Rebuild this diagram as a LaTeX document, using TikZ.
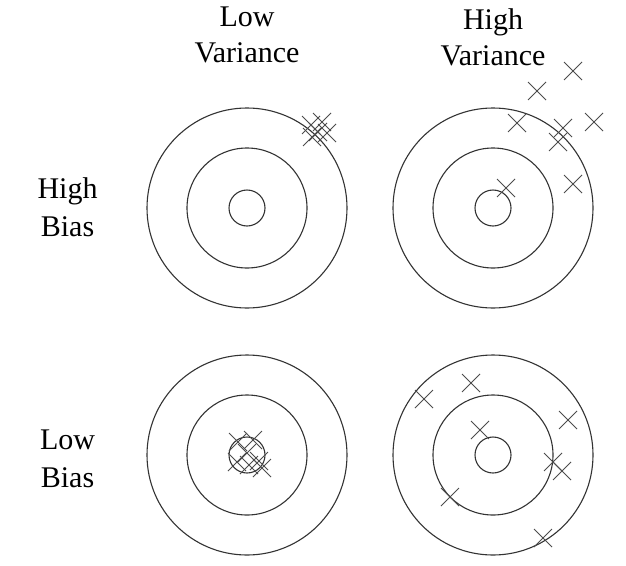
\documentclass[tikz,border=0pt]{standalone}
\usepackage{fontspec}
\setmainfont{Liberation Serif}
\usetikzlibrary{shapes.misc}
\begin{document}
\begin{tikzpicture}[x=1pt,y=-1pt,
  ring/.style={draw=black!80, line width=1.1pt},
  xm/.style={cross out, draw=black!70, line width=1pt, minimum size=17pt, inner sep=0pt},
  lab/.style={font=\fontsize{30}{36}\selectfont, anchor=base, inner sep=0pt, text=black}]
\useasboundingbox (0,0) rectangle (626,565);
\fill[white] (0,0) rectangle (626,565);
% labels
\node[lab] (lv1) at (247,26) {Low};
\node[lab] (lv2) at (247,62) {Variance};
\node[lab] (hv1) at (493,29) {High};
\node[lab] (hv2) at (493,65) {Variance};
\node[lab] (hb1) at (67.5,198) {High};
\node[lab] (hb2) at (67.5,236) {Bias};
\node[lab] (lb1) at (67.5,449) {Low};
\node[lab] (lb2) at (67.5,487) {Bias};
% targets
\foreach \cx/\cy in {247/208, 493/208, 247/455, 493/455}{
  \draw[ring] (\cx,\cy) circle (100pt);
  \draw[ring] (\cx,\cy) circle (60pt);
  \draw[ring] (\cx,\cy) circle (18pt);
}
% top-left cluster
\foreach \px/\py [count=\i] in {311/125, 322/122, 318/132, 327/133, 312/137}{
  \node[xm] (a\i) at (\px,\py) {};
}
% top-right
\foreach \px/\py [count=\i] in {573/71, 537/91, 517/123, 563/128, 594/122, 558/142, 573/184, 506/188}{
  \node[xm] (b\i) at (\px,\py) {};
}
% bottom-left cluster
\foreach \px/\py [count=\i] in {238/442, 253/440, 247/453, 259/461, 237/462, 249/465, 262/468}{
  \node[xm] (c\i) at (\px,\py) {};
}
% bottom-right
\foreach \px/\py [count=\i] in {424/399, 471/383, 568/420, 480/430, 553/462, 562/471, 450/497, 543/538}{
  \node[xm] (d\i) at (\px,\py) {};
}
\end{tikzpicture}
\end{document}
